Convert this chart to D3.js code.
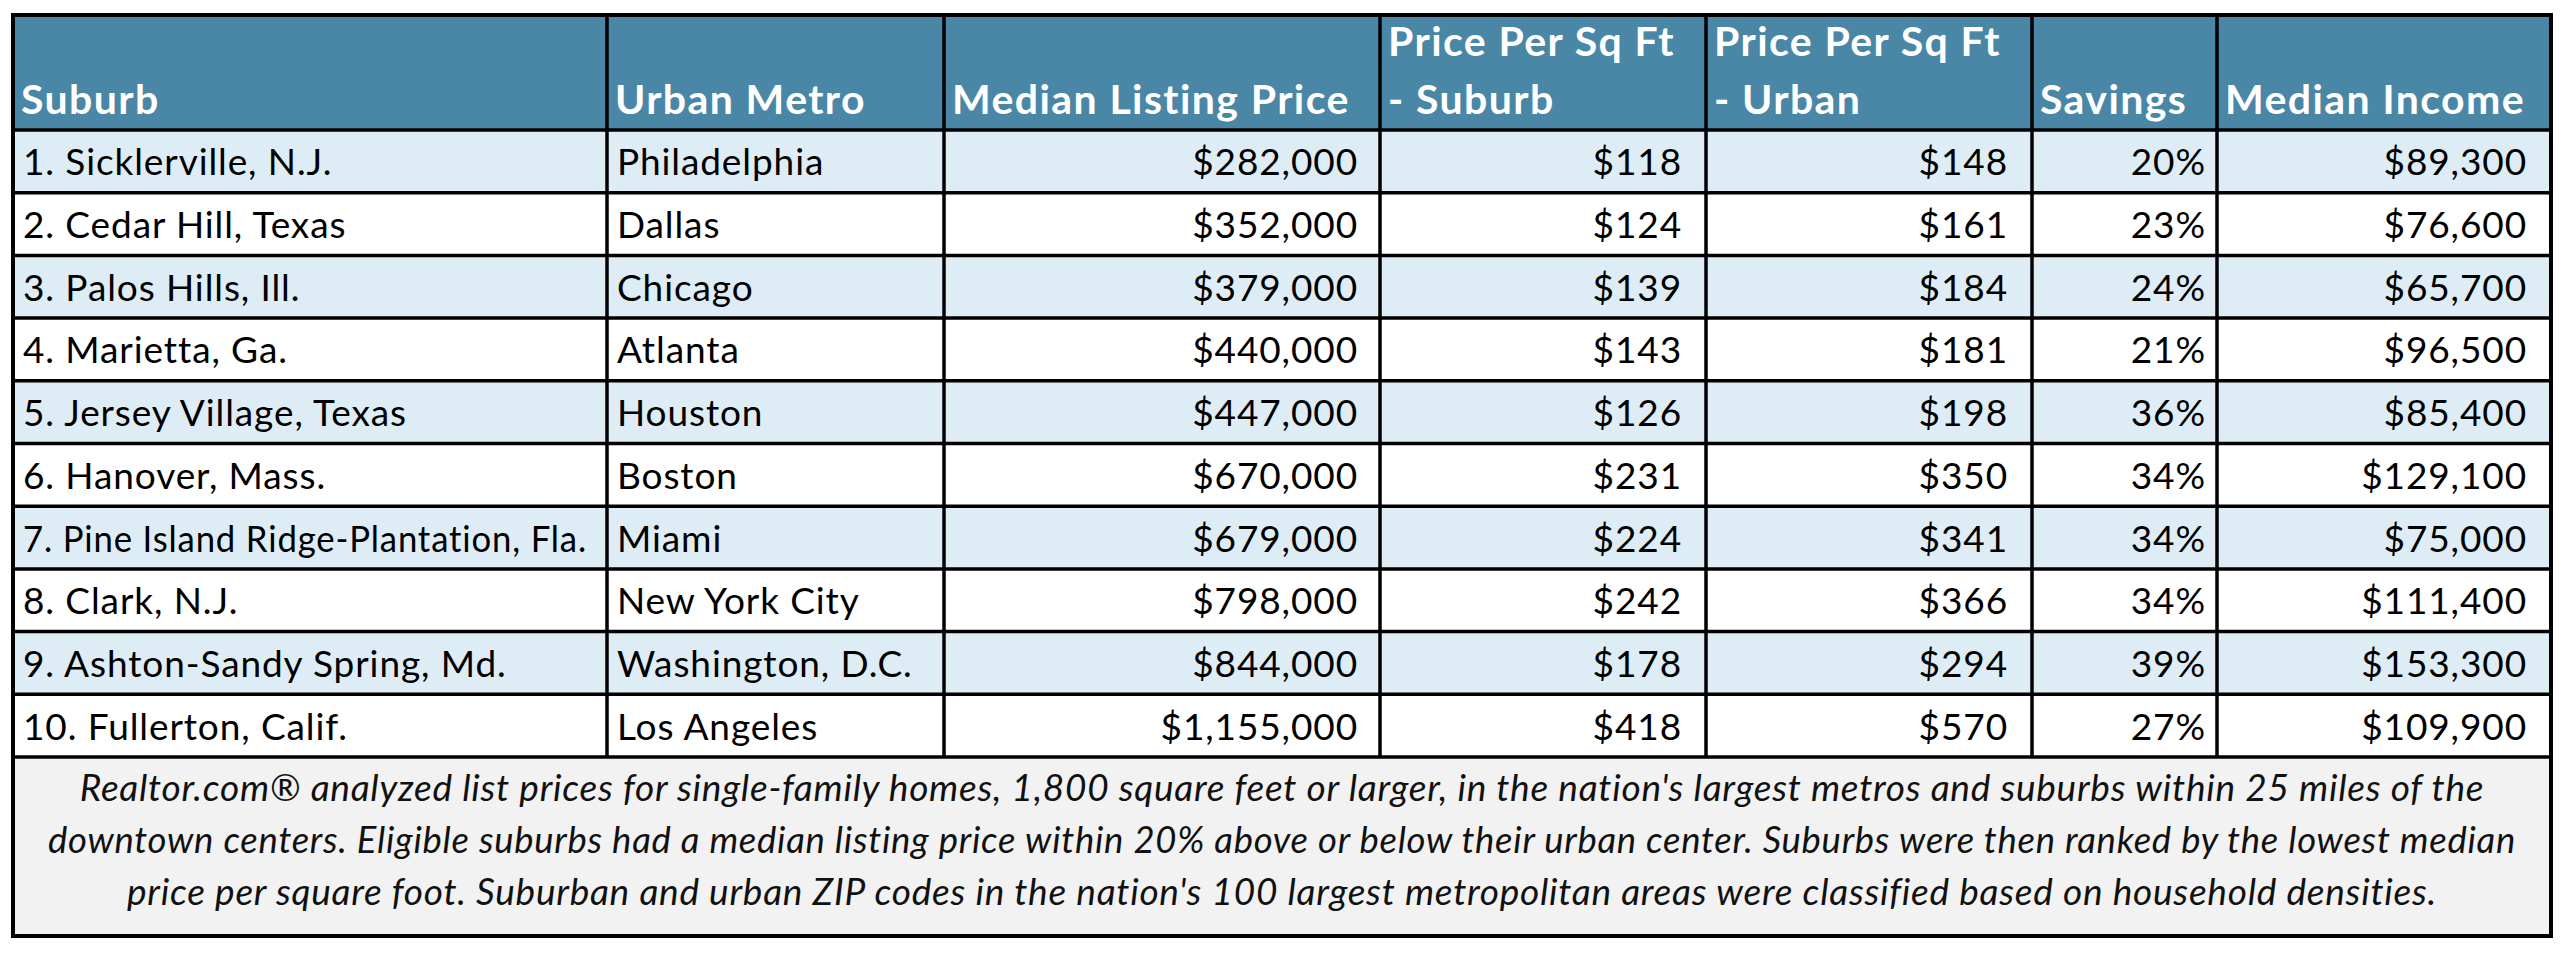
<!DOCTYPE html>
<html>
<head>
<meta charset="utf-8">
<script src="https://cdn.jsdelivr.net/npm/d3@7"></script>
<style>
  html, body { margin: 0; padding: 0; background: #ffffff; }
  svg { display: block; }
</style>
</head>
<body>
<svg id="chart" width="2566" height="954"></svg>
<script>
// ---------- data ----------
const headers = [
  ["Suburb"],
  ["Urban Metro"],
  ["Median Listing Price"],
  ["Price Per Sq Ft", "- Suburb"],
  ["Price Per Sq Ft", "- Urban"],
  ["Savings"],
  ["Median Income"]
];
const suburbs = [
  "1. Sicklerville, N.J.",
  "2. Cedar Hill, Texas",
  "3. Palos Hills, Ill.",
  "4. Marietta, Ga.",
  "5. Jersey Village, Texas",
  "6. Hanover, Mass.",
  "7. Pine Island Ridge-Plantation, Fla.",
  "8. Clark, N.J.",
  "9. Ashton-Sandy Spring, Md.",
  "10. Fullerton, Calif."
];
const metros = [
  "Philadelphia", "Dallas", "Chicago", "Atlanta", "Houston",
  "Boston", "Miami", "New York City", "Washington, D.C.", "Los Angeles"
];
const listingPrices = [282000, 352000, 379000, 440000, 447000, 670000, 679000, 798000, 844000, 1155000];
const ppsfSuburb = [118, 124, 139, 143, 126, 231, 224, 242, 178, 418];
const ppsfUrban = [148, 161, 184, 181, 198, 350, 341, 366, 294, 570];
const savingsPct = [20, 23, 24, 21, 36, 34, 34, 34, 39, 27];
const medianIncome = [89300, 76600, 65700, 96500, 85400, 129100, 75000, 111400, 153300, 109900];
const footnoteLines = [
  "Realtor.com® analyzed list prices for single-family homes, 1,800 square feet or larger, in the nation's largest metros and suburbs within 25 miles of the",
  "downtown centers. Eligible suburbs had a median listing price within 20% above or below their urban center. Suburbs were then ranked by the lowest median",
  "price per square foot. Suburban and urban ZIP codes in the nation's 100 largest metropolitan areas were classified based on household densities."
];

// ---------- layout / style ----------
const colWidths = [594, 337, 436, 326, 326, 185, 334];
const tableLeft = 13, tableTop = 15, headerBottom = 130, bodyBottom = 757, footBottom = 936;
const headerFill = "#4a87a6", stripeFill = "#deedf5", footFill = "#f2f2f2";
const fontFam = "Lato, 'Open Sans', sans-serif";

const fmtMoney = d3.format("$,");
const rows = suburbs.map((s, i) => [
  s, metros[i], fmtMoney(listingPrices[i]), fmtMoney(ppsfSuburb[i]),
  fmtMoney(ppsfUrban[i]), savingsPct[i] + "%", fmtMoney(medianIncome[i])
]);
const align = ["start", "start", "end", "end", "end", "end", "end"];
const padRight = [0, 0, 22, 24, 24, 11, 24];
const padLeft = 10;

const colEdges = [tableLeft];
colWidths.forEach(w => colEdges.push(colEdges[colEdges.length - 1] + w));
const tableRight = colEdges[colEdges.length - 1];

const x = d3.scaleOrdinal().domain(d3.range(colWidths.length)).range(colEdges.slice(0, -1));
const y = d3.scaleBand().domain(suburbs).range([headerBottom, bodyBottom]);

const svg = d3.select("#chart");

// squeeze a text element horizontally if it is wider than maxW
function fit(sel, maxW) {
  const n = sel.node();
  const w = n.getComputedTextLength();
  if (w > maxW) sel.attr("textLength", maxW).attr("lengthAdjust", "spacingAndGlyphs");
}

// header background
svg.append("rect").attr("x", tableLeft).attr("y", tableTop)
  .attr("width", tableRight - tableLeft).attr("height", headerBottom - tableTop)
  .attr("fill", headerFill);

// row backgrounds
svg.append("g").selectAll("rect").data(suburbs).join("rect")
  .attr("x", tableLeft).attr("y", d => y(d))
  .attr("width", tableRight - tableLeft).attr("height", y.bandwidth())
  .attr("fill", (d, i) => i % 2 === 0 ? stripeFill : "#ffffff");

// footnote background
svg.append("rect").attr("x", tableLeft).attr("y", bodyBottom)
  .attr("width", tableRight - tableLeft).attr("height", footBottom - bodyBottom)
  .attr("fill", footFill);

// header text
const hg = svg.append("g").attr("font-family", fontFam).attr("font-weight", 700)
  .attr("font-size", 41).attr("letter-spacing", 1.4).attr("fill", "#ffffff");
headers.forEach((lines, c) => {
  const baseLast = 114;
  lines.forEach((ln, k) => {
    const t = hg.append("text")
      .attr("x", x(c) + 8)
      .attr("y", baseLast - (lines.length - 1 - k) * 58)
      .text(ln);
    fit(t, colWidths[c] - 14);
  });
});

// body text
const bg = svg.append("g").attr("font-family", fontFam).attr("font-size", 37)
  .attr("letter-spacing", 0.9).attr("fill", "#000000");
rows.forEach((r, i) => {
  r.forEach((val, c) => {
    const t = bg.append("text")
      .attr("x", align[c] === "start" ? x(c) + padLeft : x(c) + colWidths[c] - padRight[c])
      .attr("y", y(suburbs[i]) + y.bandwidth() / 2 + 14)
      .attr("text-anchor", align[c])
      .text(val);
    fit(t, colWidths[c] - 30);
  });
});

// footnote
const fg = svg.append("g").attr("font-family", fontFam).attr("font-style", "italic")
  .attr("font-size", 37).attr("letter-spacing", 0.75).attr("fill", "#111111");
footnoteLines.forEach((ln, k) => {
  const t = fg.append("text")
    .attr("x", (tableLeft + tableRight) / 2)
    .attr("y", 801 + k * 52)
    .attr("text-anchor", "middle")
    .text(ln);
  fit(t, tableRight - tableLeft - 70);
});

// grid lines
const lines = svg.append("g").attr("stroke", "#000000").attr("stroke-width", 3.5);
[headerBottom, ...suburbs.map(s => y(s) + y.bandwidth())].forEach(yy => {
  lines.append("line").attr("x1", tableLeft).attr("x2", tableRight).attr("y1", yy).attr("y2", yy);
});
colEdges.slice(1, -1).forEach(xx => {
  lines.append("line").attr("x1", xx).attr("x2", xx).attr("y1", tableTop).attr("y2", bodyBottom);
});
lines.append("rect").attr("x", tableLeft).attr("y", tableTop)
  .attr("width", tableRight - tableLeft).attr("height", footBottom - tableTop)
  .attr("fill", "none").attr("stroke-width", 4);
</script>
</body>
</html>
